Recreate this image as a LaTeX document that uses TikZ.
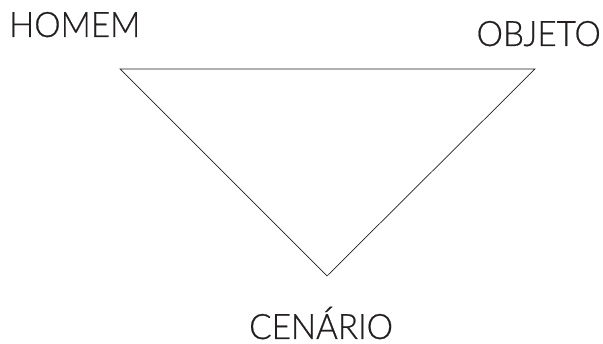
\documentclass[tikz,border=0pt]{standalone}
\usepackage{fontspec}
\setmainfont{Lato}[UprightFont=* Light, FakeBold=0.6, FakeStretch=0.95]
\definecolor{ink}{HTML}{231F20}
\begin{document}
\begin{tikzpicture}[x=1pt,y=1pt,
  lbl/.style={inner sep=0pt,text=ink,font=\fontsize{35}{40}\selectfont},
  edge/.style={draw=ink,line width=0.7pt}]
\useasboundingbox (0,0) rectangle (603,344);
\node[lbl,anchor=base west] (homem) at (9,307) {HOMEM};
\node[lbl,anchor=base east] (objeto) at (601,298) {OBJETO};
\node[lbl,anchor=base west] (cenario) at (249,5) {CENÁRIO};
\coordinate (h) at (120,275);
\coordinate (o) at (535,275);
\coordinate (c) at (327,68);
\draw[edge] (h) -- (o) -- (c) -- cycle;
\end{tikzpicture}
\end{document}
